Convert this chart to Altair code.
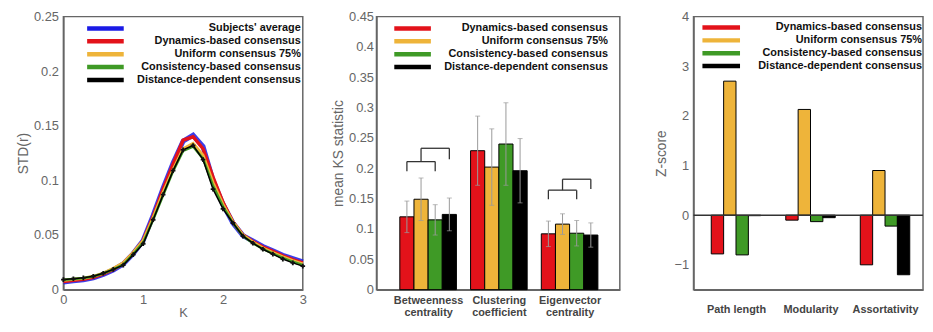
import altair as alt
import pandas as pd

# ---------------- Panel 1: STD(r) vs K ----------------
K = [0.0, 0.125, 0.25, 0.375, 0.5, 0.625, 0.75, 0.875, 1.0, 1.125, 1.25, 1.375,
     1.5, 1.625, 1.75, 1.875, 2.0, 2.125, 2.25, 2.375, 2.5, 2.625, 2.75, 2.875, 3.0]
subjects_avg = [0.0070, 0.0080, 0.0090, 0.0108, 0.0140, 0.0180, 0.0235, 0.0330, 0.0450, 0.0680,
                0.0930, 0.1160, 0.1360, 0.1415, 0.1310, 0.1000, 0.0780, 0.0610, 0.0495, 0.0445,
                0.0395, 0.0355, 0.0315, 0.0285, 0.0255]
dynamics = [0.0075, 0.0085, 0.0095, 0.0112, 0.0145, 0.0185, 0.0240, 0.0335, 0.0450, 0.0670,
            0.0920, 0.1150, 0.1370, 0.1400, 0.1290, 0.1030, 0.0800, 0.0620, 0.0500, 0.0440,
            0.0390, 0.0350, 0.0310, 0.0275, 0.0245]
uniform75 = [0.0085, 0.0095, 0.0105, 0.0122, 0.0152, 0.0195, 0.0245, 0.0340, 0.0450, 0.0660,
             0.0890, 0.1100, 0.1290, 0.1340, 0.1230, 0.0980, 0.0780, 0.0620, 0.0500, 0.0435,
             0.0380, 0.0340, 0.0300, 0.0265, 0.0235]
consistency = [0.0090, 0.0098, 0.0106, 0.0121, 0.0148, 0.0185, 0.0230, 0.0325, 0.0430, 0.0640,
               0.0865, 0.1085, 0.1270, 0.1310, 0.1200, 0.0950, 0.0760, 0.0610, 0.0490, 0.0425,
               0.0372, 0.0330, 0.0290, 0.0255, 0.0225]
distance = [0.0092, 0.0100, 0.0108, 0.0123, 0.0150, 0.0185, 0.0225, 0.0320, 0.0420, 0.0640,
            0.0870, 0.1090, 0.1280, 0.1320, 0.1190, 0.0920, 0.0740, 0.0610, 0.0490, 0.0425,
            0.0370, 0.0325, 0.0280, 0.0245, 0.0215]

line_labels = ["Subjects' average", "Dynamics-based consensus", "Uniform consensus 75%",
               "Consistency-based consensus", "Distance-dependent consensus"]
line_colors = ["#1a1ae6", "#e3121a", "#eeb43a", "#3f9a26", "#000000"]
line_widths = [5, 3.5, 3, 2.5, 1.5]

# ---------------- Panel 2: mean KS statistic ----------------
ks_groups = ["Betweenness centrality", "Clustering coefficient", "Eigenvector centrality"]
ks_series = ["Dynamics-based consensus", "Uniform consensus 75%",
             "Consistency-based consensus", "Distance-dependent consensus"]
ks_mean = {
    "Dynamics-based consensus": [0.120, 0.229, 0.092],
    "Uniform consensus 75%": [0.149, 0.202, 0.108],
    "Consistency-based consensus": [0.115, 0.240, 0.093],
    "Distance-dependent consensus": [0.124, 0.196, 0.090],
}
ks_err = {
    "Dynamics-based consensus": [0.026, 0.057, 0.021],
    "Uniform consensus 75%": [0.035, 0.063, 0.017],
    "Consistency-based consensus": [0.025, 0.068, 0.021],
    "Distance-dependent consensus": [0.027, 0.053, 0.020],
}
# brackets: group, from series idx, to series idx, top level, left leg bottom, right leg bottom
bracket_group = [0, 0, 2, 2]
bracket_from = [0, 1, 0, 1]
bracket_to = [2, 3, 2, 3]
bracket_top = [0.211, 0.233, 0.164, 0.182]
bracket_left_bottom = [0.195, 0.211, 0.149, 0.164]
bracket_right_bottom = [0.195, 0.215, 0.149, 0.166]

# ---------------- Panel 3: Z-score ----------------
z_groups = ["Path length", "Modularity", "Assortativity"]
z_vals = {
    "Dynamics-based consensus": [-0.78, -0.10, -1.00],
    "Uniform consensus 75%": [2.70, 2.13, 0.90],
    "Consistency-based consensus": [-0.80, -0.13, -0.22],
    "Distance-dependent consensus": [-0.01, -0.05, -1.20],
}
bar_colors = ["#e3121a", "#eeb43a", "#3f9a26", "#000000"]

FONT = "Liberation Sans"
AX = "#666666"


def legend_layers(labels, colors, sw_x0, sw_x1, text_x, y0, dy):
    layers = []
    for i, (lab, col) in enumerate(zip(labels, colors)):
        d = pd.DataFrame({"label": [lab]})
        y = y0 + dy * i
        layers.append(alt.Chart(d).mark_rule(color=col, strokeWidth=4.5).encode(
            x=alt.value(sw_x0), x2=alt.value(sw_x1), y=alt.value(y)))
        layers.append(alt.Chart(d).mark_text(align="right", baseline="middle", font=FONT,
                                             fontSize=11, fontWeight="bold", color="#111").encode(
            x=alt.value(text_x), y=alt.value(y), text="label:N"))
    return layers


# ---- panel 1 ----
series_vals = [subjects_avg, dynamics, uniform75, consistency, distance]
W1, H = 242, 276
x1_axis = alt.Axis(values=[0, 1, 2, 3], format="~g", title="K", labelPadding=4,
                   titlePadding=0, titleFontSize=13, labelOverlap=False)
y1_axis = alt.Axis(values=[0, 0.05, 0.1, 0.15, 0.2, 0.25], format=".2~f",
                   title="STD(r)", labelPadding=5, titlePadding=3, labelOverlap=False)
x1_scale = alt.Scale(domain=[0, 3], nice=False)
y1_scale = alt.Scale(domain=[0, 0.25], nice=False)
p1_layers = []
for lab, col, sw, vals in zip(line_labels, line_colors, line_widths, series_vals):
    d = pd.DataFrame({"K": K, "v": vals})
    p1_layers.append(alt.Chart(d).mark_line(color=col, strokeWidth=sw,
                                            opacity=0.85 if lab == "Subjects' average" else 1).encode(
        x=alt.X("K:Q", scale=x1_scale, axis=x1_axis),
        y=alt.Y("v:Q", scale=y1_scale, axis=y1_axis)))
dd = pd.DataFrame({"K": K, "v": distance})
p1_layers.append(alt.Chart(dd).mark_point(shape="cross", filled=True, size=22, color="#111",
                                          opacity=1).encode(
    x=alt.X("K:Q", scale=x1_scale, axis=x1_axis),
    y=alt.Y("v:Q", scale=y1_scale, axis=y1_axis)))
p1_layers += legend_layers(line_labels, line_colors, 24, 61, 240, 12, 13)
panel1 = alt.layer(*p1_layers).properties(width=W1, height=H)


# ---- bar helpers ----
def bar_df(groups, series, vals, w, errs=None):
    rows = []
    for j, s in enumerate(series):
        for g in range(len(groups)):
            xc = g + (j - 1.5) * w
            r = {"series": s, "g": g, "xc": xc, "x0": xc - w / 2, "x1": xc + w / 2,
                 "v": vals[s][g], "color": bar_colors[j]}
            if errs is not None:
                r["lo"] = vals[s][g] - errs[s][g]
                r["hi"] = vals[s][g] + errs[s][g]
            rows.append(r)
    return pd.DataFrame(rows)


color_enc = alt.Color("series:N", scale=alt.Scale(domain=ks_series, range=bar_colors), legend=None)

# ---- panel 2 ----
W2 = 246
w2 = 0.2
d2 = bar_df(ks_groups, ks_series, ks_mean, w2, ks_err)
x2_scale = alt.Scale(domain=[-0.73, 2.71], nice=False, zero=False)
y2_scale = alt.Scale(domain=[0, 0.45], nice=False)
lab2 = ("datum.value == 0 ? ['Betweenness','centrality'] : datum.value == 1 ? "
        "['Clustering','coefficient'] : ['Eigenvector','centrality']")
x2_axis = alt.Axis(values=[0, 1, 2], labelExpr=lab2, title=None, labelPadding=5,
                   labelFontWeight="bold", labelColor="#444", labelFontSize=11,
                   labelLineHeight=12.5, labelOverlap=False)
y2_axis = alt.Axis(values=[0, 0.05, 0.1, 0.15, 0.2, 0.25, 0.3, 0.35, 0.4, 0.45],
                   format=".2~f", title="mean KS statistic", labelPadding=3,
                   titlePadding=3, labelOverlap=False)


def X2(f):
    return alt.X(f, scale=x2_scale, axis=x2_axis)


def Y2(f):
    return alt.Y(f, scale=y2_scale, axis=y2_axis)


bars2 = alt.Chart(d2).mark_bar(stroke="#000", strokeWidth=1).encode(
    x=X2("x0:Q"), x2="x1:Q", y=Y2("v:Q"), y2=alt.datum(0), color=color_enc)
err2 = alt.Chart(d2).mark_rule(color="#9a9a9a", strokeWidth=1).encode(
    x=X2("xc:Q"), y=Y2("lo:Q"), y2="hi:Q")
caps_lo = alt.Chart(d2).mark_tick(orient="horizontal", color="#9a9a9a", size=5, thickness=1).encode(
    x=X2("xc:Q"), y=Y2("lo:Q"))
caps_hi = alt.Chart(d2).mark_tick(orient="horizontal", color="#9a9a9a", size=5, thickness=1).encode(
    x=X2("xc:Q"), y=Y2("hi:Q"))

br_rows_h, br_rows_v = [], []
for g, a, b, top, lb, rb in zip(bracket_group, bracket_from, bracket_to, bracket_top,
                                bracket_left_bottom, bracket_right_bottom):
    xa = g + (a - 1.5) * w2
    xb = g + (b - 1.5) * w2
    br_rows_h.append({"xa": xa, "xb": xb, "y": top})
    br_rows_v.append({"x": xa, "y0": lb, "y1": top})
    br_rows_v.append({"x": xb, "y0": rb, "y1": top})
brh = alt.Chart(pd.DataFrame(br_rows_h)).mark_rule(color="#333", strokeWidth=1.3).encode(
    x=X2("xa:Q"), x2="xb:Q", y=Y2("y:Q"))
brv = alt.Chart(pd.DataFrame(br_rows_v)).mark_rule(color="#333", strokeWidth=1.3).encode(
    x=X2("x:Q"), y=Y2("y0:Q"), y2="y1:Q")
p2_layers = [bars2, err2, caps_lo, caps_hi, brh, brv]
p2_layers += legend_layers(ks_series, bar_colors, 18, 55, 234, 12, 13)
panel2 = alt.layer(*p2_layers).properties(width=W2, height=H)

# ---- panel 3 ----
W3 = 232
w3 = 0.166
d3 = bar_df(z_groups, ks_series, z_vals, w3)
x3_scale = alt.Scale(domain=[-0.57, 2.51], nice=False, zero=False)
y3_scale = alt.Scale(domain=[-1.5, 4], nice=False)
lab3 = ("datum.value == 0 ? 'Path length' : datum.value == 1 ? 'Modularity' : 'Assortativity'")
x3_axis = alt.Axis(values=[0, 1, 2], labelExpr=lab3, title=None, labelPadding=14,
                   labelFontWeight="bold", labelColor="#444", labelFontSize=11,
                   labelOverlap=False)
y3_axis = alt.Axis(values=[-1, 0, 1, 2, 3, 4], title="Z-score", labelPadding=5,
                   titlePadding=5, labelOverlap=False)
bars3 = alt.Chart(d3).mark_bar(stroke="#000", strokeWidth=1).encode(
    x=alt.X("x0:Q", scale=x3_scale, axis=x3_axis), x2="x1:Q",
    y=alt.Y("v:Q", scale=y3_scale, axis=y3_axis), y2=alt.datum(0),
    color=color_enc)
zero3 = alt.Chart(pd.DataFrame({"z": [0]})).mark_rule(color="#333", strokeWidth=1.5).encode(
    y=alt.Y("z:Q", scale=y3_scale, axis=y3_axis))
p3_layers = [bars3, zero3]
p3_layers += legend_layers(ks_series, bar_colors, 9, 47, 231, 11, 13)
panel3 = alt.layer(*p3_layers).properties(width=W3, height=H)

chart = alt.hconcat(panel1, panel2, panel3, spacing=74.5, bounds="flush").properties(
    padding={"left": 7, "top": 0, "right": 0, "bottom": 0}
).configure_view(stroke=AX, strokeWidth=1.5).configure_axis(
    domainColor=AX, domainWidth=1.5, ticks=False, grid=False,
    labelFont=FONT, labelFontSize=13, labelColor="#666666",
    titleFont=FONT, titleFontSize=14, titleFontWeight="normal", titleColor="#666666",
    labelFlush=False, labelOverlap=False
)

chart.save("out.html", embed_options={"renderer": "svg", "actions": False})
